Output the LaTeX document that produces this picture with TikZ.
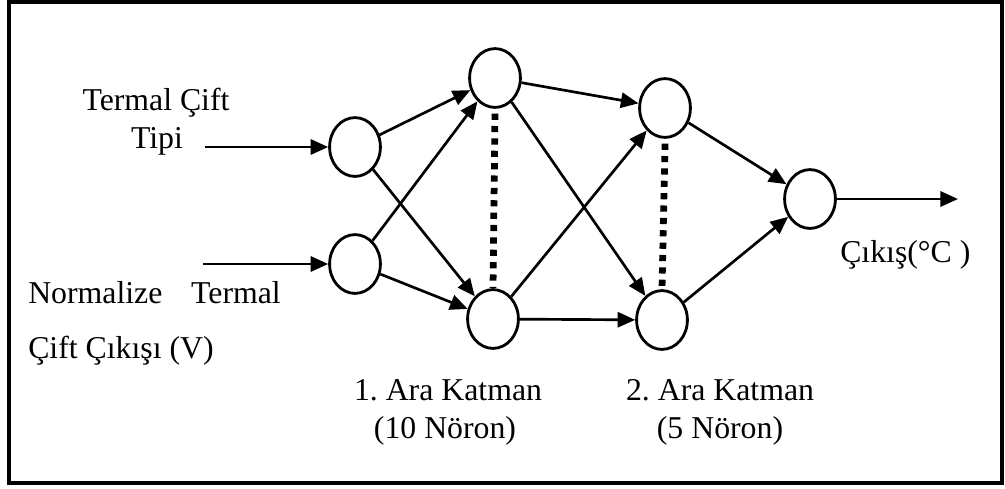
\documentclass[tikz,border=0pt]{standalone}
\usepackage{fontspec}
\setmainfont{Liberation Serif}
\usetikzlibrary{shapes.geometric,arrows.meta}

\tikzset{
  neuron/.style={draw,ellipse,line width=2pt,minimum width=1.27cm,minimum height=1.47cm,inner sep=0pt},
  conn/.style={line width=1.9pt,-{Triangle[length=0.44cm,width=0.38cm]}},
  lbl/.style={font=\fontsize{22.6}{27}\selectfont,inner sep=0pt},
  gap/.style={line width=4.8pt,dash pattern=on 4.4pt off 4.4pt}
}
\frenchspacing

\begin{document}
\begin{tikzpicture}[x=0.025cm,y=-0.025cm]

\useasboundingbox (0,0) rectangle (1005,488);
\draw[line width=2.2pt] (9,2) rectangle (1002,483);

\node[neuron] (in1) at (355,147) {};
\node[neuron] (in2) at (355,264) {};
\node[neuron] (h1a) at (495,78) {};
\node[neuron] (h1b) at (493,319) {};
\node[neuron] (h2a) at (665,108) {};
\node[neuron] (h2b) at (662,320) {};
\node[neuron] (out) at (810,199) {};

\coordinate (s1) at (205,147);
\coordinate (s2) at (203,264);
\coordinate (e) at (958,199);

\draw[conn] (s1) -- (in1);
\draw[conn] (s2) -- (in2);
\foreach \a in {in1,in2} \foreach \b in {h1a,h1b} \draw[conn] (\a) -- (\b);
\foreach \a in {h1a,h1b} \foreach \b in {h2a,h2b} \draw[conn] (\a) -- (\b);
\draw[conn] (h2a) -- (out);
\draw[conn] (h2b) -- (out);
\draw[conn] (out) -- (e);

\draw[gap] ([yshift=-0.12cm]h1a.south) -- (h1b.north);
\draw[gap] ([yshift=-0.12cm]h2a.south) -- (h2b.north);

\node[lbl,anchor=base] (t1) at (156,110) {Termal Çift};
\node[lbl,anchor=base] (t2) at (157,148) {Tipi};
\node[lbl,anchor=base west] (t3) at (28,303) {Normalize\hspace{0.72cm}Termal};
\node[lbl,anchor=base west] (t4) at (28,358) {Çift Çıkışı (V)};
\node[lbl,anchor=base] (t5) at (448,400) {1. Ara Katman};
\node[lbl,anchor=base] (t6) at (445,438) {(10 Nöron)};
\node[lbl,anchor=base] (t7) at (720,400) {2. Ara Katman};
\node[lbl,anchor=base] (t8) at (720,438) {(5 Nöron)};
\node[lbl,anchor=base west] (t9) at (840,262) {Çıkış(°C )};

\end{tikzpicture}
\end{document}
